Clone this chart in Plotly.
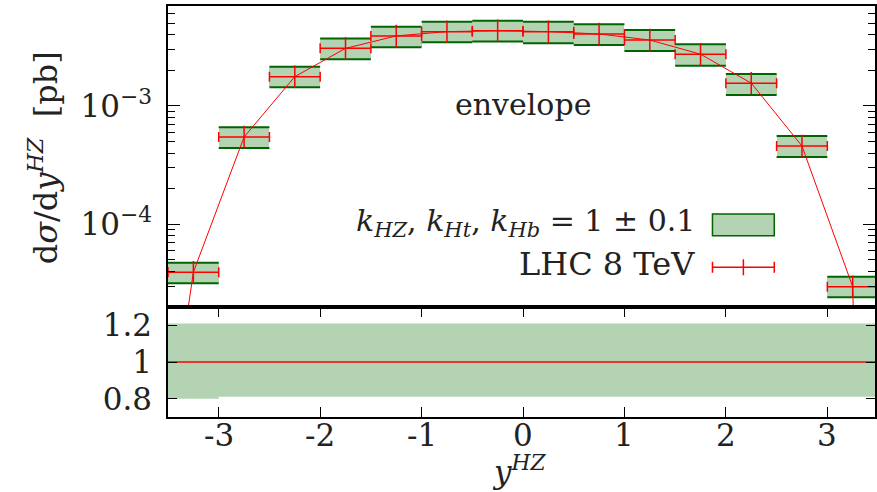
import plotly.graph_objects as go

# ---------------- data ----------------
bin_edges = [-3.5, -3.0, -2.5, -2.0, -1.5, -1.0, -0.5, 0.0, 0.5, 1.0, 1.5, 2.0, 2.5, 3.0, 3.5]
bin_centers = [-3.25, -2.75, -2.25, -1.75, -1.25, -0.75, -0.25, 0.25, 0.75, 1.25, 1.75, 2.25, 2.75, 3.25]
central = [3.93e-5, 5.47e-4, 1.77e-3, 3.07e-3, 3.91e-3, 4.25e-3, 4.33e-3,
           4.25e-3, 4.06e-3, 3.61e-3, 2.74e-3, 1.56e-3, 4.59e-4, 2.97e-5]
env_hi = [4.73e-5, 6.60e-4, 2.15e-3, 3.71e-3, 4.68e-3, 5.16e-3, 5.26e-3,
          5.16e-3, 4.90e-3, 4.39e-3, 3.32e-3, 1.86e-3, 5.58e-4, 3.61e-5]
env_lo = [3.17e-5, 4.42e-4, 1.44e-3, 2.48e-3, 3.13e-3, 3.45e-3, 3.50e-3,
          3.39e-3, 3.28e-3, 2.92e-3, 2.19e-3, 1.24e-3, 3.71e-4, 2.42e-5]
# line through the central values, including the off-range end points
line_x = [-3.75] + bin_centers + [3.75]
line_y = [4.7e-8] + central + [1e-20]
# ratio panel
ratio_hi = [1.21] * 14
ratio_lo = [0.80] + [0.81] * 13
ratio_c = [c / c for c in central]

ytick_vals = [1e-4, 1e-3]
ytick_text = ["10<sup>−4</sup>", "10<sup>−3</sup>"]
minor_vals = [m * 10 ** e for e in (-5, -4, -3) for m in range(2, 10) if 2e-5 <= m * 10 ** e <= 7e-3]
xtick_vals = [-3, -2, -1, 0, 1, 2, 3]
xtick_text = ["-3", "-2", "-1", "0", "1", "2", "3"]
rtick_vals = [0.8, 1.0, 1.2]
rtick_text = ["0.8", "1", "1.2"]

# ---------------- styling ----------------
FONT = "DejaVu Serif"
TXT = "#222222"
FILL = "#b3d3b3"
DKG = "#006400"
RED = "#ff0000"
W, H = 877, 492
L, R, T, B = 168, 0, 6, 75
PW, PH = W - L - R, H - T - B
SPLIT = 307  # pixel y of panel split


def px(p):
    return (p - L) / PW


def py(p):
    return (H - B - p) / PH


split_dom = py(SPLIT)
widths = [b - a for a, b in zip(bin_edges[:-1], bin_edges[1:])]

fig = go.Figure()

# envelope boxes
fig.add_trace(go.Bar(x=bin_centers, y=[h - l for h, l in zip(env_hi, env_lo)], base=env_lo,
                     width=widths, marker=dict(color=FILL, line=dict(width=0)),
                     xaxis="x", yaxis="y", showlegend=False, hoverinfo="skip"))
# dark green top/bottom edges
ex, ey_hi, ey_lo = [], [], []
for a, b, h, l in zip(bin_edges[:-1], bin_edges[1:], env_hi, env_lo):
    ex += [a, b, None]
    ey_hi += [h, h, None]
    ey_lo += [l, l, None]
for ey in (ey_hi, ey_lo):
    fig.add_trace(go.Scatter(x=ex, y=ey, mode="lines", line=dict(color=DKG, width=2),
                             xaxis="x", yaxis="y", showlegend=False, hoverinfo="skip"))
# red line
fig.add_trace(go.Scatter(x=line_x, y=line_y, mode="lines", line=dict(color=RED, width=1),
                         xaxis="x", yaxis="y", showlegend=False, hoverinfo="skip"))
# red error bars with + markers
fig.add_trace(go.Scatter(x=bin_centers, y=central, mode="markers",
                         marker=dict(symbol="line-ns", size=16, line=dict(color=RED, width=1.5), color=RED),
                         error_x=dict(type="data", array=[w / 2 for w in widths], color=RED,
                                      thickness=1.5, width=5),
                         xaxis="x", yaxis="y", showlegend=False, hoverinfo="skip"))

# ratio panel band
fig.add_trace(go.Scatter(x=bin_edges, y=ratio_lo + [ratio_lo[-1]], mode="lines", line=dict(width=0, shape="hv"),
                         xaxis="x2", yaxis="y2", showlegend=False, hoverinfo="skip"))
fig.add_trace(go.Scatter(x=bin_edges, y=ratio_hi + [ratio_hi[-1]], mode="lines", line=dict(width=0, shape="hv"),
                         fill="tonexty", fillcolor=FILL,
                         xaxis="x2", yaxis="y2", showlegend=False, hoverinfo="skip"))
fig.add_trace(go.Scatter(x=bin_edges, y=ratio_c + [ratio_c[-1]], mode="lines",
                         line=dict(color=RED, width=1.5, shape="hv"),
                         xaxis="x2", yaxis="y2", showlegend=False, hoverinfo="skip"))

axis_common = dict(showline=True, linecolor="black", linewidth=1.5, showgrid=False, zeroline=False,
                   tickcolor="black", tickwidth=1, tickfont=dict(family=FONT, size=31, color=TXT))

fig.update_layout(
    width=W, height=H, margin=dict(l=L, r=R, t=T, b=B),
    paper_bgcolor="white", plot_bgcolor="white", showlegend=False, bargap=0,
    font=dict(family=FONT, color=TXT),
    xaxis=dict(axis_common, domain=[0, 1], range=[-3.5, 3.47], anchor="y", showticklabels=False,
               ticks="", mirror=True),
    yaxis=dict(axis_common, type="log", domain=[split_dom, 1], range=[-4.69897, -2.154902], anchor="x",
               tickmode="array", tickvals=ytick_vals, ticktext=ytick_text, ticks="inside", ticklen=12,
               mirror="allticks", ticklabelstandoff=8,
               minor=dict(tickmode="array", tickvals=minor_vals, ticks="inside", ticklen=7,
                          tickcolor="black", tickwidth=1, showgrid=False)),
    xaxis2=dict(axis_common, domain=[0, 1], range=[-3.5, 3.47], anchor="y2",
                tickmode="array", tickvals=xtick_vals, ticktext=xtick_text, ticks="inside", ticklen=10,
                mirror="allticks", showticklabels=False),
    yaxis2=dict(axis_common, domain=[0, split_dom], range=[0.7, 1.3], anchor="x2",
                tickmode="array", tickvals=rtick_vals, ticktext=rtick_text, ticks="inside", ticklen=9,
                mirror="allticks", ticklabelstandoff=8),
)

# x tick labels placed as annotations (closer to the axis than plotly's default)
for v, t in zip(xtick_vals, xtick_text):
    fig.add_annotation(x=v, xref="x2", y=py(435), yref="paper", text=t, showarrow=False,
                       font=dict(family=FONT, size=31, color=TXT), xanchor="center", yanchor="middle")

ann_font = dict(family=FONT, size=32, color=TXT)
fig.add_annotation(x=0, xref="x", y=py(104), yref="paper", text="envelope", showarrow=False,
                   font=dict(family=FONT, size=30, color=TXT), xanchor="center", yanchor="middle")
fig.add_annotation(x=px(698), xref="paper", y=py(222), yref="paper",
                   text="<i>k</i><sub><i>HZ</i></sub>, <i>k</i><sub><i>Ht</i></sub>, <i>k</i><sub><i>Hb</i></sub> = 1 ± 0.1",
                   showarrow=False, font=dict(family=FONT, size=30, color=TXT), xanchor="right", yanchor="middle")
fig.add_annotation(x=px(698), xref="paper", y=py(264), yref="paper", text="LHC 8 TeV",
                   showarrow=False, font=ann_font, xanchor="right", yanchor="middle")
fig.add_annotation(x=px(43), xref="paper", y=py(158), yref="paper",
                   text="d<i>σ</i>/d<i>y</i><sup><i>HZ</i></sup>  [pb]", textangle=-90,
                   showarrow=False, font=ann_font, xanchor="center", yanchor="middle")
fig.add_annotation(x=px(520), xref="paper", y=py(470), yref="paper",
                   text="<i>y</i><sup><i>HZ</i></sup>", showarrow=False,
                   font=dict(family=FONT, size=31, color=TXT),
                   xanchor="center", yanchor="middle")

# legend samples (drawn manually: symbol to the right of the text)
fig.add_shape(type="rect", xref="paper", yref="paper", x0=px(714), x1=px(776), y0=py(235.7), y1=py(214),
              fillcolor=FILL, line=dict(color=DKG, width=1.5))
fig.add_shape(type="line", xref="paper", yref="paper", x0=px(714), x1=px(776), y0=py(267.3), y1=py(267.3),
              line=dict(color=RED, width=1.5))
for cx, hh in ((714, 5.5), (776, 5.5), (745, 8)):
    fig.add_shape(type="line", xref="paper", yref="paper", x0=px(cx), x1=px(cx),
                  y0=py(267.3 - hh), y1=py(267.3 + hh), line=dict(color=RED, width=1.5))

fig.write_html("out.html")
